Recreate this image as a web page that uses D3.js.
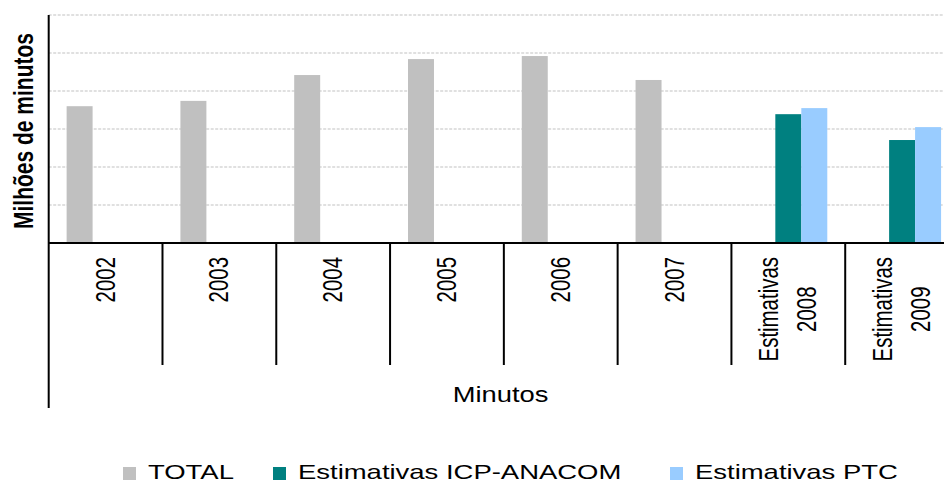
<!DOCTYPE html>
<html><head><meta charset="utf-8">
<script src="https://cdn.jsdelivr.net/npm/d3@7"></script>
<style>html,body{margin:0;padding:0;background:#fff;overflow:hidden}svg{display:block}</style>
</head><body>
<svg id="c" width="944" height="483"></svg>
<script>
const categories = ["2002","2003","2004","2005","2006","2007","Estimativas\n2008","Estimativas\n2009"];
const seriesNames = ["TOTAL","Estimativas ICP-ANACOM","Estimativas PTC"];
const totalValues = [3600, 3740, 4420, 4840, 4920, 4290, null, null];
const icpValues   = [null, null, null, null, null, null, 3390, 2710];
const ptcValues   = [null, null, null, null, null, null, 3550, 3050];
const yTicks = [1000, 2000, 3000, 4000, 5000, 6000];
const colors = ["#c0c0c0", "#008080", "#99ccff"];
const xTitle = "Minutos";
const yTitle = "Milhões de minutos";

const svg = d3.select("#c");
const left = 48.7, right = 959, baseY = 243, topY = 15;
const x0 = d3.scaleBand().domain(categories).range([left, right]).paddingInner(0).paddingOuter(0);
const x1 = d3.scaleBand().domain(seriesNames).range([0, x0.bandwidth()]).paddingInner(0).paddingOuter(0.69);
const y = d3.scaleLinear().domain([0, 6000]).range([baseY, topY]);
const allSeries = [totalValues, icpValues, ptcValues];

// gridlines
svg.append("g").selectAll("line").data(yTicks).join("line")
  .attr("x1", left).attr("x2", 944)
  .attr("y1", d => y(d)).attr("y2", d => y(d))
  .attr("stroke", "#d6d6d6").attr("stroke-width", 1.3).attr("stroke-dasharray", "3,1.5");

// bars
const bars = [];
categories.forEach((c, i) => {
  seriesNames.forEach((s, j) => {
    const v = allSeries[j][i];
    if (v != null) bars.push({c, s, v, j});
  });
});
svg.append("g").selectAll("rect").data(bars).join("rect")
  .attr("x", d => x0(d.c) + x1(d.s))
  .attr("width", x1.bandwidth())
  .attr("y", d => y(d.v))
  .attr("height", d => y(0) - y(d.v))
  .attr("fill", d => colors[d.j]);

// axes lines
svg.append("line").attr("x1", left).attr("x2", 944).attr("y1", baseY).attr("y2", baseY)
  .attr("stroke", "#000").attr("stroke-width", 2);
svg.append("line").attr("x1", left).attr("x2", left).attr("y1", topY).attr("y2", 408)
  .attr("stroke", "#000").attr("stroke-width", 2);
svg.append("g").selectAll("line").data(categories.slice(1).concat(["__end"])).join("line")
  .attr("x1", d => d === "__end" ? right : x0(d)).attr("x2", d => d === "__end" ? right : x0(d))
  .attr("y1", baseY).attr("y2", 365)
  .attr("stroke", "#000").attr("stroke-width", 2);

// category labels
const lblG = svg.append("g");
categories.forEach(c => {
  const lines = c.split("\n");
  const cx = x0(c) + x0.bandwidth() / 2;
  const g = lblG.append("g").attr("transform", `translate(${cx},257) rotate(-90) scale(0.73,1)`);
  const texts = lines.map((ln, k) => g.append("text")
    .attr("font-family", "Liberation Sans, Arial, sans-serif")
    .attr("font-size", 28).attr("fill", "#000")
    .attr("y", 9 + (k - (lines.length - 1) / 2) * 37.8)
    .attr("text-anchor", "middle").text(ln));
  const Lmax = d3.max(texts, t => t.node().getComputedTextLength());
  texts.forEach(t => t.attr("x", -Lmax / 2));
});

// x title
svg.append("text").attr("transform", "translate(500.5,402) scale(1.26,1)")
  .attr("font-family", "Liberation Sans, Arial, sans-serif").attr("font-size", 21.7)
  .attr("text-anchor", "middle").attr("fill", "#000").text(xTitle);

// y title
svg.append("text").attr("transform", "translate(33,131) rotate(-90) scale(0.75,1)")
  .attr("font-family", "Liberation Sans, Arial, sans-serif").attr("font-size", 28)
  .attr("font-weight", "bold").attr("text-anchor", "middle").attr("fill", "#000").text(yTitle);

// legend
const legendX = [123, 273, 670];
const lg = svg.append("g");
seriesNames.forEach((s, j) => {
  const lx = legendX[j];
  lg.append("rect").attr("x", lx).attr("y", 467).attr("width", 13).attr("height", 13).attr("fill", colors[j]);
  lg.append("text").attr("transform", `translate(${lx + 25},478.5) scale(1.34,1)`)
    .attr("font-family", "Liberation Sans, Arial, sans-serif").attr("font-size", 20.5)
    .attr("fill", "#000").text(s);
});
</script>
</body></html>
